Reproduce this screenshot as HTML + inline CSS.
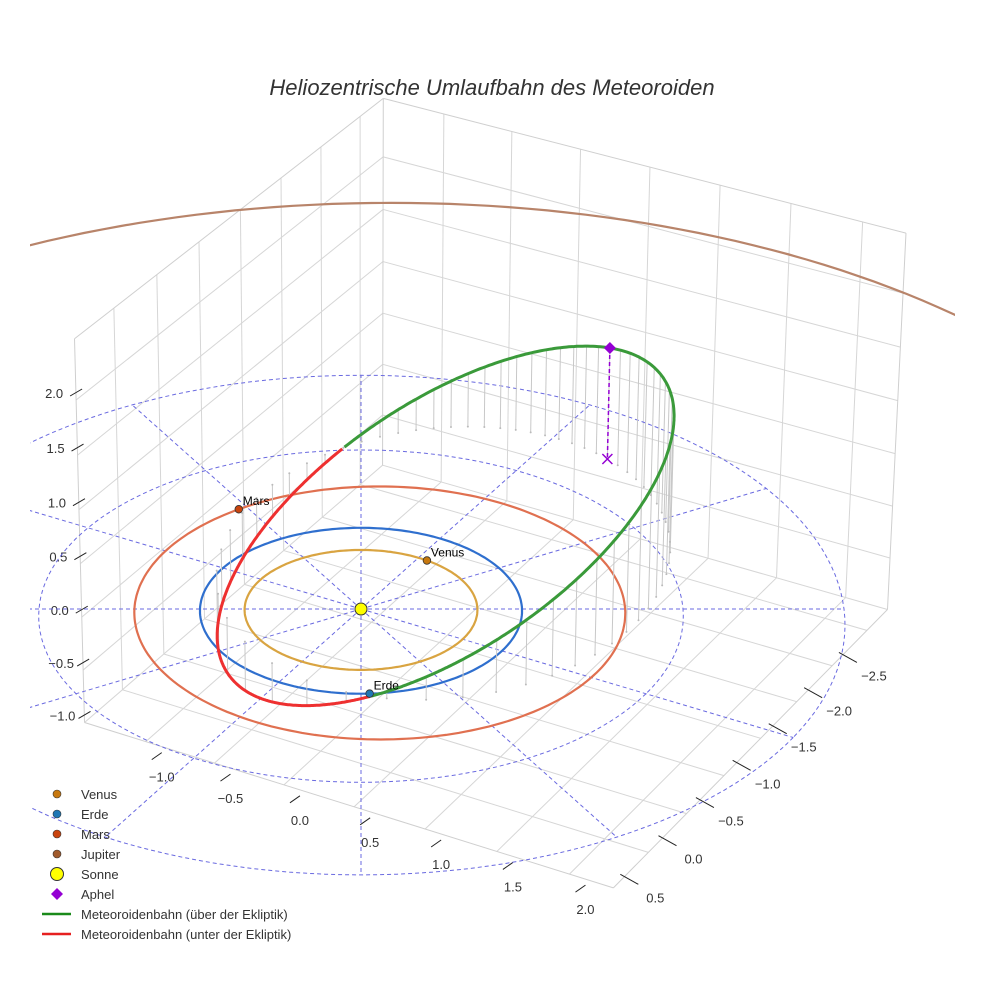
<!DOCTYPE html>
<html><head><meta charset="utf-8"><style>
body{margin:0;background:#fff;overflow:hidden}
svg{display:block;font-family:"Liberation Sans",sans-serif}
</style></head><body>
<svg id="c" width="984" height="984" viewBox="0 0 984 984">
<defs><clipPath id="clipScene"><rect x="30" y="0" width="925" height="984"/></clipPath></defs>
<rect width="984" height="984" fill="#fff"/>
<text x="492" y="95" text-anchor="middle" font-size="22" font-style="italic" fill="#333">Heliozentrische Umlaufbahn des Meteoroiden</text>
<g id="scene" clip-path="url(#clipScene)"></g>
<g id="legend"></g>
</svg>
<script>
// ---- data ----
const xTicks=[-1.0,-0.5,0.0,0.5,1.0,1.5,2.0];
const yTicks=[-2.5,-2.0,-1.5,-1.0,-0.5,0.0,0.5];
const zTicks=[-1.0,-0.5,0.0,0.5,1.0,1.5,2.0];
const xRange=[-1.45,2.3], yRange=[-2.8,0.95], zRange=[-1.0,2.55];
const planetNames=["Venus","Erde","Mars","Jupiter"];
const planetA=[0.723,1.0,1.524,5.2];
const planetCx=[0,0,0.10,0.045];
const planetCy=[0,0,-0.06,-0.34];
const planetAngle=[-85,57,204,null];
const planetOrbitColor=["#d9a441","#2f6fce","#e07050","#b8846a"];
const planetColor=["#c7780f","#1f77b4","#c9440e","#a05a2c"];
const gridRadii=[1,2,3];
const spokeAngles=[0,30,60,90,120,150,180,210,240,270,300,330];
const meteorE=[0.49];
const meteorP=[1.37];
const periDir=[-0.163,0.903,-0.395];
const perpDir=[0.880,0.316,0.355];
// ---- projection ----
const S=161,ZS=0.77,D=40,CX=361,CY=609;
const al=Math.PI/6, th=31*Math.PI/180;
const ca=Math.cos(al),sa=Math.sin(al),ct=Math.cos(th),st=Math.sin(th);
function P(x,y,z){const u=x*ca-y*sa,v=x*sa+y*ca,zp=z*ZS;const w=v*ct+zp*st;const k=D/(D-w);return [CX+k*S*u,CY+k*S*(v*st-zp*ct)];}
const NS="http://www.w3.org/2000/svg";
const scene=document.getElementById('scene');
function el(tag,attrs,parent){const e=document.createElementNS(NS,tag);for(const k in attrs)e.setAttribute(k,attrs[k]);(parent||scene).appendChild(e);return e;}
function line3(a,b,st_){const p=P(...a),q=P(...b);return el('line',Object.assign({x1:p[0],y1:p[1],x2:q[0],y2:q[1]},st_));}
function poly(pts,st_){return el('polyline',Object.assign({points:pts.map(p=>p[0].toFixed(1)+','+p[1].toFixed(1)).join(' '),fill:'none'},st_));}
const G={stroke:'#d6d6d6','stroke-width':1};
const [x0,x1]=xRange,[y0,y1]=yRange,[z0,z1]=zRange;
// floor grid
xTicks.forEach(x=>{const l=line3([x,y0,z0],[x,y1,z0],G);});
yTicks.forEach(y=>{const l=line3([x0,y,z0],[x1,y,z0],G);});
// wall x=xmin
yTicks.forEach(y=>{const l=line3([x0,y,z0],[x0,y,z1],G);});
zTicks.forEach(z=>{const l=line3([x0,y0,z],[x0,y1,z],G);});
// wall y=ymin
xTicks.forEach(x=>{const l=line3([x,y0,z0],[x,y0,z1],G);});
zTicks.forEach(z=>{const l=line3([x0,y0,z],[x1,y0,z],G);});
// box edges
[[[x0,y1,z0],[x0,y1,z1]],[[x1,y0,z0],[x1,y0,z1]],[[x0,y0,z0],[x0,y0,z1]],[[x0,y1,z0],[x1,y1,z0]],[[x1,y1,z0],[x1,y0,z0]],[[x0,y0,z1],[x0,y1,z1]],[[x0,y0,z1],[x1,y0,z1]]].forEach(e=>{const l=line3(e[0],e[1],{stroke:'#cfcfcf','stroke-width':1});});
// ticks and labels
function lab(txt,x,y,name){const t=el('text',{x:x,y:y,'font-size':13,fill:'#333','text-anchor':'middle'});t.textContent=txt;}
function fmt(v){return (v<0?'\u2212':'')+Math.abs(v).toFixed(1);}
xTicks.forEach(x=>{const p=P(x,y1,z0);const t=el('line',{x1:p[0]+6,y1:p[1]+18,x2:p[0]+16,y2:p[1]+11,stroke:'#222','stroke-width':1});lab(fmt(x),p[0]+16,p[1]+40,'x-tick-label');});
yTicks.forEach(y=>{const p=P(x1,y,z0);const t=el('line',{x1:p[0]-28,y1:p[1]+22,x2:p[0]-10,y2:p[1]+32,stroke:'#222','stroke-width':1});lab(fmt(y),p[0]+7,p[1]+50,'y-tick-label');});
zTicks.forEach(z=>{const p=P(x0,y1,z);const t=el('line',{x1:p[0]-6,y1:p[1]-4,x2:p[0]+6,y2:p[1]-11,stroke:'#222','stroke-width':1});lab(fmt(z),p[0]-22,p[1]-2,'z-tick-label');});
// polar dashed grid
const DS={stroke:'#6a6ae0','stroke-width':1,'stroke-dasharray':'4,3'};
gridRadii.forEach(r=>{const pts=[];for(let i=0;i<=180;i++){const a=i*2*Math.PI/180;pts.push(P(r*Math.cos(a),r*Math.sin(a),0));}const pl=poly(pts,DS);});
spokeAngles.forEach(d=>{const a=d*Math.PI/180,r=gridRadii[gridRadii.length-1];const l=line3([0,0,0],[r*Math.cos(a),r*Math.sin(a),0],DS);});
// planet orbits
planetNames.forEach((n,i)=>{let pts=[];for(let j=0;j<=240;j++){const a=j*2*Math.PI/240;pts.push(P(planetCx[i]+planetA[i]*Math.cos(a),planetCy[i]+planetA[i]*Math.sin(a),0));}
 if(n==='Jupiter'){pts=pts.filter(q=>q[1]<CY);pts.sort((a,b)=>a[0]-b[0]);}
 const pl=poly(pts,{stroke:planetOrbitColor[i],'stroke-width':2.2});});
// meteoroid orbit
const e=meteorE[0],p=meteorP[0];
function M(nu){const r=p/(1+e*Math.cos(nu));const c=Math.cos(nu)*r,s=Math.sin(nu)*r;return [c*periDir[0]+s*perpDir[0],c*periDir[1]+s*perpDir[1],c*periDir[2]+s*perpDir[2]];}
// drop lines (uniform mean anomaly)
for(let i=0;i<60;i++){const Mn=i*2*Math.PI/60;let E=Mn;for(let k=0;k<30;k++)E=Mn+e*Math.sin(E);const nu=2*Math.atan2(Math.sqrt(1+e)*Math.sin(E/2),Math.sqrt(1-e)*Math.cos(E/2));const q=M(nu);const l=line3(q,[q[0],q[1],0],{stroke:'#c8c8c8','stroke-width':1});const b=P(q[0],q[1],0);const d=el('circle',{cx:b[0],cy:b[1],r:1,fill:'#bbb'});}
const green=[],red=[];
for(let i=0;i<=720;i++){const nu=-Math.PI+i*2*Math.PI/720;const q=M(nu);(q[2]>=0?green:red).push([nu,P(...q)]);}
function seg(list,color,name){let cur=[],prev=null;const out=[];list.forEach(([nu,pt])=>{if(prev!==null&&nu-prev>0.02){out.push(cur);cur=[];}cur.push(pt);prev=nu;});out.push(cur);
 if(out.length>1&&name==='meteor-green'){out[0]=out[1].concat(out[0]);out.splice(1,1);}
 out.forEach(s=>{const pl=poly(s,{stroke:color,'stroke-width':3,'stroke-linejoin':'round'});});}
seg(green,'#3a9a3a','meteor-green');
seg(red,'#ee3030','meteor-red');
// aphelion
const A=M(Math.PI);const pa=P(...A),pg=P(A[0],A[1],0);
const al2=el('line',{x1:pa[0],y1:pa[1],x2:pg[0],y2:pg[1],stroke:'#9400d3','stroke-width':1.5,'stroke-dasharray':'4,3'});
const xm=el('path',{d:`M${pg[0]-5},${pg[1]-5}L${pg[0]+5},${pg[1]+5}M${pg[0]+5},${pg[1]-5}L${pg[0]-5},${pg[1]+5}`,stroke:'#9400d3','stroke-width':1.5});
const dm=el('path',{d:`M${pa[0]},${pa[1]-6}L${pa[0]+6},${pa[1]}L${pa[0]},${pa[1]+6}L${pa[0]-6},${pa[1]}Z`,fill:'#9400d3'});
// planets
planetNames.forEach((n,i)=>{if(planetAngle[i]===null)return;const a=planetAngle[i]*Math.PI/180;const q=P(planetCx[i]+planetA[i]*Math.cos(a),planetCy[i]+planetA[i]*Math.sin(a),0);const c=el('circle',{cx:q[0],cy:q[1],r:3.8,fill:planetColor[i],stroke:'#333','stroke-width':0.8});const t=el('text',{x:q[0]+4,y:q[1]-4,'font-size':12,fill:'#000'});t.textContent=n;});
const sp=P(0,0,0);const sun=el('circle',{cx:sp[0],cy:sp[1],r:6,fill:'#ffff00',stroke:'#333','stroke-width':1});
// legend
const lg=document.getElementById('legend');
const legendLabels=["Venus","Erde","Mars","Jupiter","Sonne","Aphel","Meteoroidenbahn (über der Ekliptik)","Meteoroidenbahn (unter der Ekliptik)"];
legendLabels.forEach((t,i)=>{const y=794+i*20;
 if(i<4){const c=el('circle',{cx:57,cy:y,r:4,fill:planetColor[i],stroke:'#333','stroke-width':0.6},lg);}
 else if(i===4){const c=el('circle',{cx:57,cy:y,r:6.5,fill:'#ffff00',stroke:'#333','stroke-width':1},lg);}
 else if(i===5){const c=el('path',{d:`M57,${y-6}L63,${y}L57,${y+6}L51,${y}Z`,fill:'#9400d3'},lg);}
 else{const c=el('line',{x1:42,y1:y,x2:71,y2:y,stroke:i===6?'#1a8a1a':'#e62020','stroke-width':2.5},lg);}
 const tx=el('text',{x:81,y:y+5,'font-size':13,fill:'#333'},lg);tx.textContent=t;});
</script>
</body></html>
